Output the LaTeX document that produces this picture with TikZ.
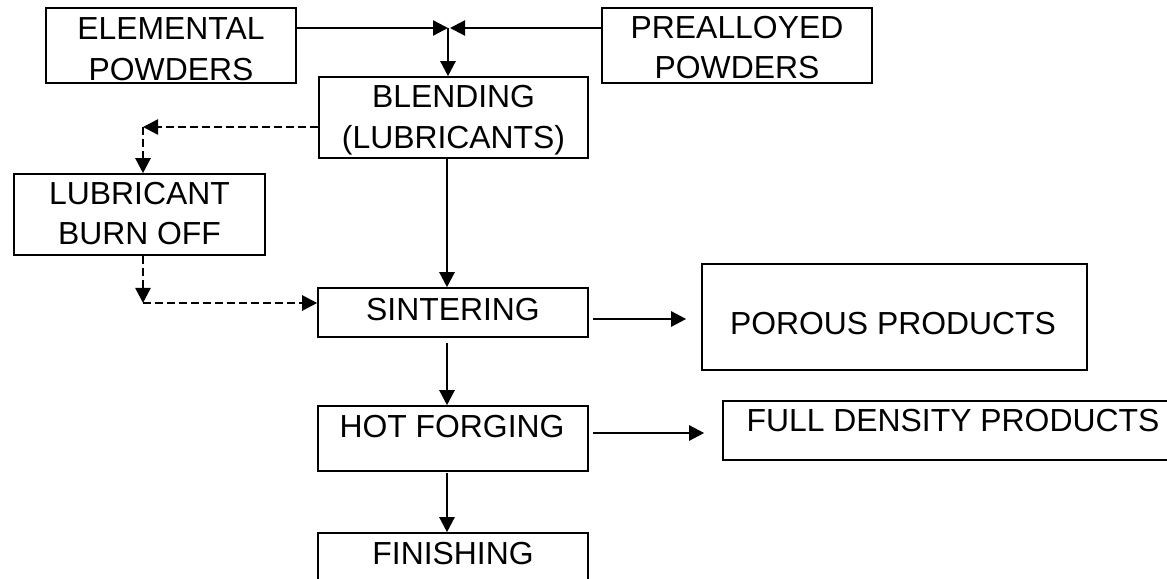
\documentclass[tikz,border=0pt]{standalone}
\usepackage{fontspec}
\setmainfont{Liberation Sans}
\usetikzlibrary{arrows.meta}
\tikzset{
  box/.style={draw, line width=1.6bp, inner sep=0pt, rectangle},
  txt/.style={font=\fontsize{32}{41}\selectfont, align=center, inner sep=0pt},
  arr/.style={line width=2.4bp, -{Triangle[length=15bp,width=15bp]}},
  darr/.style={line width=2.4bp, dash pattern=on 8bp off 4bp, -{Triangle[length=15bp,width=15bp]}}
}
\begin{document}
\begin{tikzpicture}[x=1bp,y=-1bp]
\path[use as bounding box] (0,0) rectangle (1167,579);
\clip (0,0) rectangle (1167,579);
% boxes
\node[box, minimum width=250bp, minimum height=75bp] (elem) at (171,45.5) {};
\node[box, minimum width=270bp, minimum height=75bp] (pre) at (737,45.5) {};
\node[box, minimum width=269bp, minimum height=81bp] (blend) at (453.5,117.5) {};
\node[box, minimum width=251bp, minimum height=81bp] (lub) at (139.5,214.5) {};
\node[box, minimum width=270bp, minimum height=49bp] (sint) at (453,312.5) {};
\node[box, minimum width=385bp, minimum height=106bp] (porous) at (894.5,317) {};
\node[box, minimum width=270bp, minimum height=65bp] (hot) at (453,438.5) {};
\node[box, minimum width=457bp, minimum height=59bp] (full) at (951.5,430.5) {};
\node[box, minimum width=270bp, minimum height=67bp] (fin) at (453,566.5) {};
% texts
\node[txt] (elemT) at (171,49.5) {ELEMENTAL\\POWDERS};
\node[txt] (preT) at (737,47.5) {PREALLOYED\\POWDERS};
\node[txt] (blendT) at (453.5,120) {BLENDING\\(LUBRICANTS)};
\node[txt] (lubT) at (139.5,213.5) {LUBRICANT\\BURN OFF};
\node[txt] (sintT) at (453,310) {SINTERING};
\node[txt] (porousT) at (893,324) {POROUS PRODUCTS};
\node[txt] (hotT) at (452,427) {HOT FORGING};
\node[txt] (fullT) at (953,421) {FULL DENSITY PRODUCTS};
\node[txt] (finT) at (453,554) {FINISHING};
% coordinates
\coordinate (J) at (448,28);
\coordinate (J2) at (450,28);
\coordinate (S) at (447,0);
\coordinate (P) at (0,319);
\coordinate (F) at (0,433);
\coordinate (D1) at (143,127);
\coordinate (D2) at (143,303);
% solid connectors
\draw[arr] (elem.east |- J) -- (J);
\draw[arr] (pre.west |- J2) -- (J2);
\draw[arr] (J) -- (J |- blend.north);
\draw[arr] (blend.south -| S) -- (sint.north -| S);
\draw[arr, shorten <=5bp] (sint.south -| S) -- (hot.north -| S);
\draw[arr, shorten <=1bp] (hot.south -| S) -- (fin.north -| S);
\draw[arr, shorten <=4bp, shorten >=15bp] (sint.east |- P) -- (porous.west |- P);
\draw[arr, shorten <=4bp, shorten >=18bp] (hot.east |- F) -- (full.west |- F);
% dashed connectors
\draw[darr] (blend.west |- D1) -- (D1);
\draw[darr] (D1) -- (D1 |- lub.north);
\draw[darr] (D1 |- lub.south) -- (D2);
\draw[darr] (D2) -- (D2 -| sint.west);
\end{tikzpicture}
\end{document}
